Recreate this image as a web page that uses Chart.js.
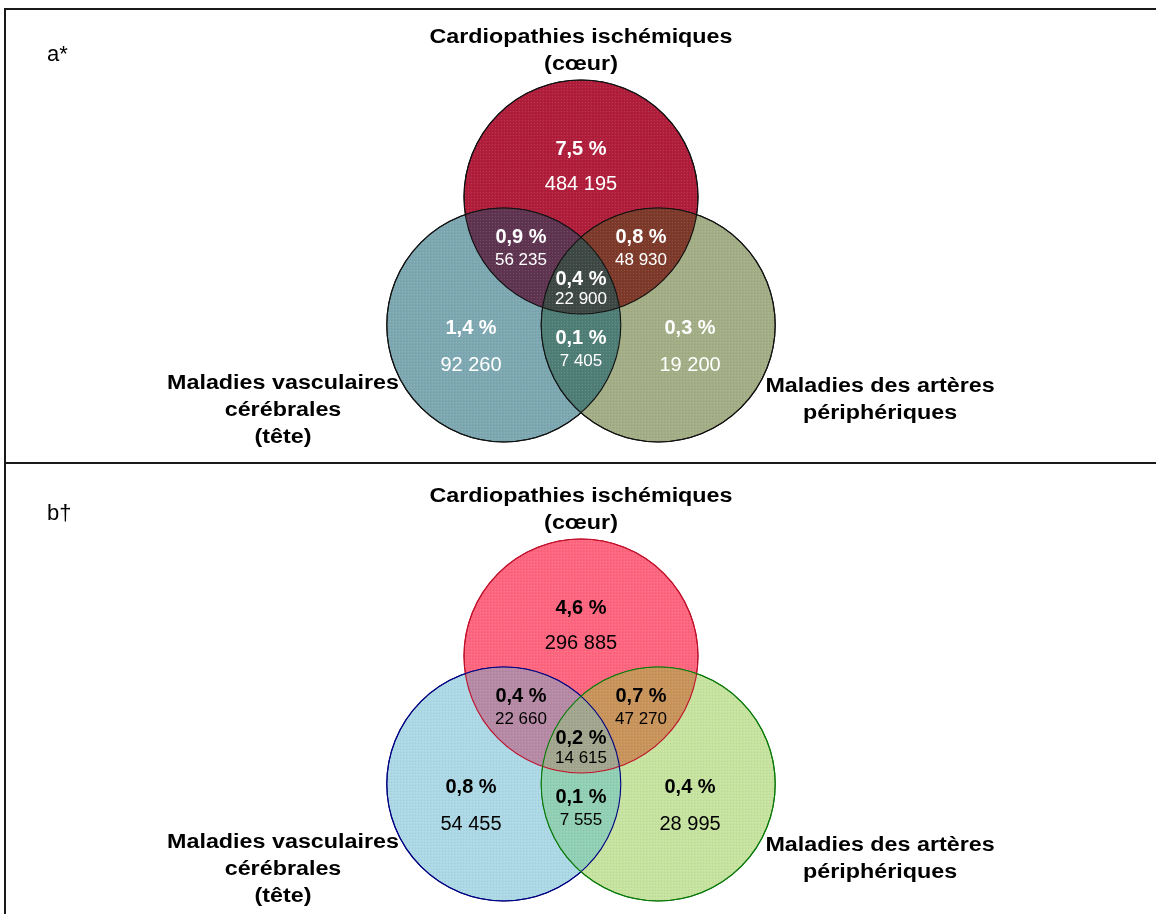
<!DOCTYPE html>
<html lang="fr">
<head>
<meta charset="utf-8">
<title>Venn – cardiopathies</title>
<script src="https://cdn.jsdelivr.net/npm/chart.js@4.4.1/dist/chart.umd.min.js"></script>
<style>
  html, body { margin: 0; padding: 0; background: #fff; }
  body { width: 1156px; height: 914px; position: relative; overflow: hidden; }
  canvas { position: absolute; left: 0; }
  #vennA { top: 0; }
  #vennB { top: 459px; }
  .rule { position: absolute; background: #1a1a1a; }
</style>
</head>
<body>
<canvas id="vennA" width="1156" height="458"></canvas>
<canvas id="vennB" width="1156" height="455"></canvas>
<div class="rule" style="left:4px;top:8px;width:1152px;height:2px"></div>
<div class="rule" style="left:4px;top:462px;width:1152px;height:2px"></div>
<div class="rule" style="left:4px;top:8px;width:2px;height:906px"></div>
<script>
/* ── Data ────────────────────────────────────────────────────── */
const panelLabels = ['a*', 'b†'];
const titleTop    = ['Cardiopathies ischémiques', '(cœur)'];
const titleLeft   = ['Maladies vasculaires', 'cérébrales', '(tête)'];
const titleRight  = ['Maladies des artères', 'périphériques'];

// region membership [cœur, tête, artères]
const regionSets = [[1,0,0], [1,1,0], [1,0,1], [1,1,1], [0,1,0], [0,1,1], [0,0,1]];
const pctA   = [7.5, 0.9, 0.8, 0.4, 1.4, 0.1, 0.3];
const countA = [484195, 56235, 48930, 22900, 92260, 7405, 19200];
const pctB   = [4.6, 0.4, 0.7, 0.2, 0.8, 0.1, 0.4];
const countB = [296885, 22660, 47270, 14615, 54455, 7555, 28995];

/* ── Layout (unit = circle radius) ───────────────────────────── */
const R  = 1;
const PX = 117;            // pixels per unit
const CX = 581, CY = 261;  // venn centre inside each canvas
const circleCentres = [{ x: 0, y: 0.547 }, { x: -0.66, y: -0.547 }, { x: 0.66, y: -0.547 }];
// [x, y of %, y of count]
const labelAnchors = [
  [0, 0.957, 0.65], [-0.513, 0.197, 0.01], [0.513, 0.197, 0.01], [0, -0.154, -0.33],
  [-0.94, -0.573, -0.89], [0, -0.66, -0.855], [0.932, -0.573, -0.89],
];
const outerRegion = [true, false, false, false, true, false, true];
const titleAnchors = { top: [0, 1.863], left: [-2.547, -1.094], right: [2.556, -1.12], panel: [-4.564, 1.709] };

const FONT = "'Liberation Sans', Arial, sans-serif";

const themeA = {
  fill:    ['#b01e3c', '#7da8b2', '#a3ae86'],
  border:  ['#111', '#111', '#111'],
  overlap: { '1,1,0': '#5e3450', '1,0,1': '#7d3a2a', '1,1,1': '#3e4844', '0,1,1': '#4e7e76' },
  text:    '#fff',
};
const themeB = {
  fill:    ['#fe6680', '#add8e6', '#c6e3a0'],
  border:  ['#c0102a', '#000080', '#0a7a0a'],
  overlap: { '1,1,0': '#b68aa5', '1,0,1': '#c8945c', '1,1,1': '#a3a68e', '0,1,1': '#91d0b4' },
  text:    '#000',
};

/* ── Controller: bubbles sized in axis units, no auto padding ── */
class VennController extends Chart.BubbleController {
  getMaxOverflow() { return false; }
}
VennController.id = 'venn';
VennController.defaults = Chart.BubbleController.defaults;
VennController.overrides = Chart.BubbleController.overrides;
Chart.register(VennController);

/* ── Helpers ─────────────────────────────────────────────────── */
function fmtPct(v)   { return v.toFixed(1).replace('.', ',') + ' %'; }
function fmtCount(n) { return String(n).replace(/\B(?=(\d{3})+(?!\d))/g, ' '); }

function drawText(ctx, text, x, y, font, colour, baseline, sx) {
  ctx.save();
  ctx.font = font;
  ctx.fillStyle = colour;
  ctx.textAlign = 'center';
  ctx.textBaseline = baseline;
  ctx.translate(x, y);
  ctx.scale(sx || 1, 1);
  ctx.fillText(text, 0, 0);
  ctx.restore();
}

function fillRegion(ctx, pts, member, colour, area) {
  ctx.save();
  pts.forEach((p, i) => {
    ctx.beginPath();
    if (member[i]) {
      ctx.arc(p.x, p.y, p.r, 0, Math.PI * 2);
      ctx.clip();
    } else {
      ctx.rect(area.left, area.top, area.right - area.left, area.bottom - area.top);
      ctx.moveTo(p.x + p.r, p.y);
      ctx.arc(p.x, p.y, p.r, 0, Math.PI * 2);
      ctx.clip('evenodd');
    }
  });
  ctx.fillStyle = colour;
  ctx.fillRect(area.left, area.top, area.right - area.left, area.bottom - area.top);
  ctx.restore();
}

function dotPattern(ctx) {
  const c = document.createElement('canvas');
  c.width = 3; c.height = 3;
  const g = c.getContext('2d');
  g.fillStyle = 'rgba(255,255,255,0.12)';
  g.fillRect(0, 0, 1, 1);
  g.fillStyle = 'rgba(0,0,0,0.06)';
  g.fillRect(1, 2, 1, 1);
  return ctx.createPattern(c, 'repeat');
}

// pixels per x unit, from the scale range (no padding, hidden axes)
function unitPixels(chart) {
  const sx = chart.options.scales.x;
  return chart.width / (sx.max - sx.min);
}

/* ── Venn plugin: overlaps, borders, labels ──────────────────── */
const vennPlugin = {
  id: 'vennLabels',
  afterDatasetsDraw(chart, args, opts) {
    const { ctx, scales: { x, y } } = chart;
    const theme = opts.theme;
    const pts = chart.getDatasetMeta(0).data.map(p => ({ x: p.x, y: p.y, r: p.options.radius }));
    const area = { left: 0, top: 0, right: chart.width, bottom: chart.height };

    Object.keys(theme.overlap).forEach(key => {
      fillRegion(ctx, pts, key.split(',').map(Number), theme.overlap[key], area);
    });

    // light dotted texture over the circles
    const pat = dotPattern(ctx);
    ctx.save();
    ctx.beginPath();
    pts.forEach(p => { ctx.moveTo(p.x + p.r, p.y); ctx.arc(p.x, p.y, p.r, 0, Math.PI * 2); });
    ctx.fillStyle = pat;
    ctx.fill('nonzero');
    ctx.restore();

    pts.forEach((p, i) => {
      ctx.save();
      ctx.beginPath();
      ctx.arc(p.x, p.y, p.r, 0, Math.PI * 2);
      ctx.strokeStyle = theme.border[i];
      ctx.lineWidth = 1.1;
      ctx.stroke();
      ctx.restore();
    });

    // region values
    regionSets.forEach((set, i) => {
      const [ax, ayP, ayC] = labelAnchors[i];
      const px = x.getPixelForValue(ax);
      drawText(ctx, fmtPct(opts.pct[i]), px, y.getPixelForValue(ayP), `bold 20px ${FONT}`, theme.text, 'middle');
      const size = outerRegion[i] ? 20 : 17;
      drawText(ctx, fmtCount(opts.counts[i]), px, y.getPixelForValue(ayC), `${size}px ${FONT}`, theme.text, 'middle');
    });

    // set titles
    const titleFont = `bold 20px ${FONT}`;
    const block = (lines, anchor) => lines.forEach((t, k) =>
      drawText(ctx, t, x.getPixelForValue(anchor[0]), y.getPixelForValue(anchor[1]) + k * 27, titleFont, '#000', 'alphabetic', 1.165));
    block(titleTop, titleAnchors.top);
    block(titleLeft, titleAnchors.left);
    block(titleRight, titleAnchors.right);

    ctx.save();
    ctx.font = `22px ${FONT}`;
    ctx.fillStyle = '#000';
    ctx.textAlign = 'left';
    ctx.fillText(opts.panelLabel, x.getPixelForValue(titleAnchors.panel[0]), y.getPixelForValue(titleAnchors.panel[1]));
    ctx.restore();
  },
};

/* ── Build one panel ─────────────────────────────────────────── */
function buildVenn(canvasId, pct, counts, panelLabel, theme) {
  const canvas = document.getElementById(canvasId);
  const W = canvas.width, H = canvas.height;
  return new Chart(canvas.getContext('2d'), {
    type: 'venn',
    data: {
      datasets: [{
        data: circleCentres.map(c => ({ x: c.x, y: c.y })),
        backgroundColor: theme.fill,
        borderColor: theme.border,
        borderWidth: 1.1,
        radius: ctx => R * unitPixels(ctx.chart),
        clip: false,
      }],
    },
    options: {
      responsive: false,
      animation: false,
      events: [],
      layout: { padding: 0 },
      plugins: {
        legend: { display: false },
        tooltip: { enabled: false },
        vennLabels: { pct, counts, panelLabel, theme },
      },
      scales: {
        x: { type: 'linear', display: false, min: -CX / PX, max: (W - CX) / PX },
        y: { type: 'linear', display: false, min: -(H - CY) / PX, max: CY / PX },
      },
    },
    plugins: [vennPlugin],
  });
}

buildVenn('vennA', pctA, countA, panelLabels[0], themeA);
buildVenn('vennB', pctB, countB, panelLabels[1], themeB);
</script>
</body>
</html>
